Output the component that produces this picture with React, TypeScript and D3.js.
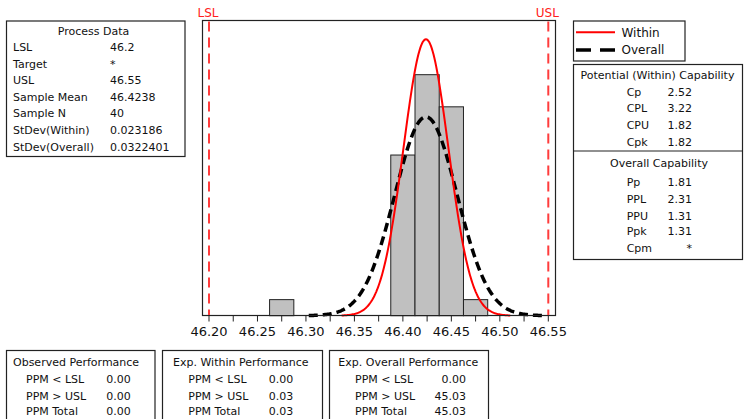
import React from "react";
import * as d3 from "d3";

// ---- data ----
const LSL = 46.2;
const USL = 46.55;
const sampleMean = 46.4238;
const sampleN = 40;
const sdWithin = 0.023186;
const sdOverall = 0.0322401;

const binCenters = [46.275, 46.4, 46.425, 46.45, 46.475];
const binCounts = [1, 10, 15, 13, 1];
const binWidth = 0.025;

const majorTicks = [46.2, 46.25, 46.3, 46.35, 46.4, 46.45, 46.5, 46.55];
const minorTicks = [46.225, 46.275, 46.325, 46.375, 46.425, 46.475, 46.525];

const processLabels = ["LSL", "Target", "USL", "Sample Mean", "Sample N", "StDev(Within)", "StDev(Overall)"];
const processValues = ["46.2", "*", "46.55", "46.4238", "40", "0.023186", "0.0322401"];

const withinLabels = ["Cp", "CPL", "CPU", "Cpk"];
const withinValues = ["2.52", "3.22", "1.82", "1.82"];
const overallLabels = ["Pp", "PPL", "PPU", "Ppk", "Cpm"];
const overallValues = ["1.81", "2.31", "1.31", "1.31", "*"];

const perfTitles = ["Observed Performance", "Exp. Within Performance", "Exp. Overall Performance"];
const perfLabels = ["PPM < LSL", "PPM > USL", "PPM Total"];
const perfObserved = ["0.00", "0.00", "0.00"];
const perfWithin = ["0.00", "0.03", "0.03"];
const perfOverall = ["0.00", "45.03", "45.03"];

const FONT = "DejaVu Sans, Verdana, sans-serif";
const TXT = "#111";

export default function App() {
  const x = d3.scaleLinear().domain([LSL, USL]).range([209, 548.3]);
  const y = d3.scaleLinear().domain([0, 18.36]).range([315.7, 20.7]);

  const frame = { left: 202.5, right: 555.5, top: 20.5, bottom: 315.5 };

  const curve = (sd: number) => {
    const lo = sampleMean - 3.75 * sd;
    const hi = sampleMean + 3.75 * sd;
    const pts = d3.range(0, 201).map((i) => {
      const xv = lo + ((hi - lo) * i) / 200;
      const z = (xv - sampleMean) / sd;
      const dens = (sampleN * binWidth) / (sd * Math.sqrt(2 * Math.PI)) * Math.exp(-0.5 * z * z);
      return [xv, dens] as [number, number];
    });
    return d3
      .line<[number, number]>()
      .x((d) => x(d[0]))
      .y((d) => y(d[1]))(pts) as string;
  };

  const perfSets = [perfObserved, perfWithin, perfOverall];
  const perfBoxes = [
    { x0: 6.5, x1: 155, tx: 13, lx: 26, vx: 130.7 },
    { x0: 162.5, x1: 322.5, tx: 173, lx: 188.3, vx: 293.3 },
    { x0: 329.5, x1: 488.5, tx: 338.3, lx: 355, vx: 466 },
  ];
  const perfRowY = [379.3, 396, 410.7];

  const withinY = [92, 108.5, 125.5, 142.5];
  const overallY = [182.3, 199, 216, 231.5, 247.7];
  const procY = [47.3, 64, 80, 97.3, 113.3, 130, 146.7];

  return (
    <svg
      width={744}
      height={419}
      style={{ position: "absolute", left: 0, top: 0, background: "#fff" }}
      fontFamily={FONT}
    >
      <rect x={0} y={0} width={744} height={419} fill="#fff" />

      {/* Process data box */}
      <rect x={6.5} y={21} width={178.5} height={135.5} fill="#fff" stroke="#222" strokeWidth={1.2} />
      <text x={93.5} y={31} dy="0.35em" fontSize={11} textAnchor="middle" fill={TXT}>Process Data</text>
      {processLabels.map((l, i) => (
        <g key={l}>
          <text x={13} y={procY[i]} dy="0.35em" fontSize={11} fill={TXT}>{l}</text>
          <text x={110} y={procY[i]} dy="0.35em" fontSize={11} fill={TXT}>{processValues[i]}</text>
        </g>
      ))}

      {/* Plot frame */}
      <rect
        x={frame.left}
        y={frame.top}
        width={frame.right - frame.left}
        height={frame.bottom - frame.top}
        fill="#fff"
        stroke="#222"
        strokeWidth={1.2}
      />

      {/* Histogram */}
      {binCenters.map((c, i) => (
        <rect
          key={c}
          x={x(c - binWidth / 2)}
          y={y(binCounts[i])}
          width={x(c + binWidth / 2) - x(c - binWidth / 2)}
          height={y(0) - y(binCounts[i])}
          fill="#c0c0c0"
          stroke="#222"
          strokeWidth={1}
        />
      ))}

      {/* Spec limits */}
      {[LSL, USL].map((v, i) => (
        <g key={v}>
          <line
            x1={x(v)}
            x2={x(v)}
            y1={frame.top + 1}
            y2={frame.bottom}
            stroke="#ff3c3c"
            strokeWidth={2}
            strokeDasharray="10,6"
          />
          <text x={x(v) - 1} y={12.5} dy="0.35em" fontSize={12} textAnchor="middle" fill="#ff2020">
            {i === 0 ? "LSL" : "USL"}
          </text>
        </g>
      ))}

      {/* Curves */}
      <path d={curve(sdOverall)} fill="none" stroke="#000" strokeWidth={3.5} strokeDasharray="9,5" />
      <path d={curve(sdWithin)} fill="none" stroke="#ff0000" strokeWidth={2} />

      {/* Axis */}
      <line x1={frame.left} x2={frame.right} y1={frame.bottom} y2={frame.bottom} stroke="#222" strokeWidth={1.2} />
      {majorTicks.concat(minorTicks).map((t) => (
        <line key={"t" + t} x1={x(t)} x2={x(t)} y1={frame.bottom} y2={frame.bottom + 6} stroke="#222" strokeWidth={1} />
      ))}
      {majorTicks.map((t) => (
        <text key={"l" + t} x={x(t)} y={331.7} dy="0.35em" fontSize={13} textAnchor="middle" fill={TXT}>
          {t.toFixed(2)}
        </text>
      ))}

      {/* Legend */}
      <rect x={573.5} y={21} width={111.5} height={40} fill="#fff" stroke="#222" strokeWidth={1.2} />
      <line x1={576} x2={615} y1={32.3} y2={32.3} stroke="#ff0000" strokeWidth={2} />
      <text x={621.5} y={32.3} dy="0.35em" fontSize={12} fill={TXT}>Within</text>
      <line x1={576} x2={615} y1={50} y2={50} stroke="#000" strokeWidth={3.5} strokeDasharray="15,9" />
      <text x={621.5} y={50} dy="0.35em" fontSize={12} fill={TXT}>Overall</text>

      {/* Capability box */}
      <rect x={573.5} y={64.5} width={169} height={195} fill="#fff" stroke="#222" strokeWidth={1.2} />
      <line x1={573.5} x2={742.5} y1={151} y2={151} stroke="#222" strokeWidth={1.2} />
      <text x={657.5} y={75} dy="0.35em" fontSize={11} textAnchor="middle" fill={TXT}>Potential (Within) Capability</text>
      {withinLabels.map((l, i) => (
        <g key={l}>
          <text x={626.7} y={withinY[i]} dy="0.35em" fontSize={11} fill={TXT}>{l}</text>
          <text x={692} y={withinY[i]} dy="0.35em" fontSize={11} textAnchor="end" fill={TXT}>{withinValues[i]}</text>
        </g>
      ))}
      <text x={659} y={162.7} dy="0.35em" fontSize={11} textAnchor="middle" fill={TXT}>Overall Capability</text>
      {overallLabels.map((l, i) => (
        <g key={l}>
          <text x={626.7} y={overallY[i]} dy="0.35em" fontSize={11} fill={TXT}>{l}</text>
          <text x={692} y={overallY[i]} dy="0.35em" fontSize={11} textAnchor="end" fill={TXT}>{overallValues[i]}</text>
        </g>
      ))}

      {/* Performance boxes */}
      {perfBoxes.map((b, k) => (
        <g key={k}>
          <rect x={b.x0} y={350.5} width={b.x1 - b.x0} height={80} fill="#fff" stroke="#222" strokeWidth={1.2} />
          <text x={b.tx} y={361.7} dy="0.35em" fontSize={11} fill={TXT}>{perfTitles[k]}</text>
          {perfLabels.map((l, i) => (
            <g key={l}>
              <text x={b.lx} y={perfRowY[i]} dy="0.35em" fontSize={11} fill={TXT}>{l}</text>
              <text x={b.vx} y={perfRowY[i]} dy="0.35em" fontSize={11} textAnchor="end" fill={TXT}>{perfSets[k][i]}</text>
            </g>
          ))}
        </g>
      ))}
    </svg>
  );
}
